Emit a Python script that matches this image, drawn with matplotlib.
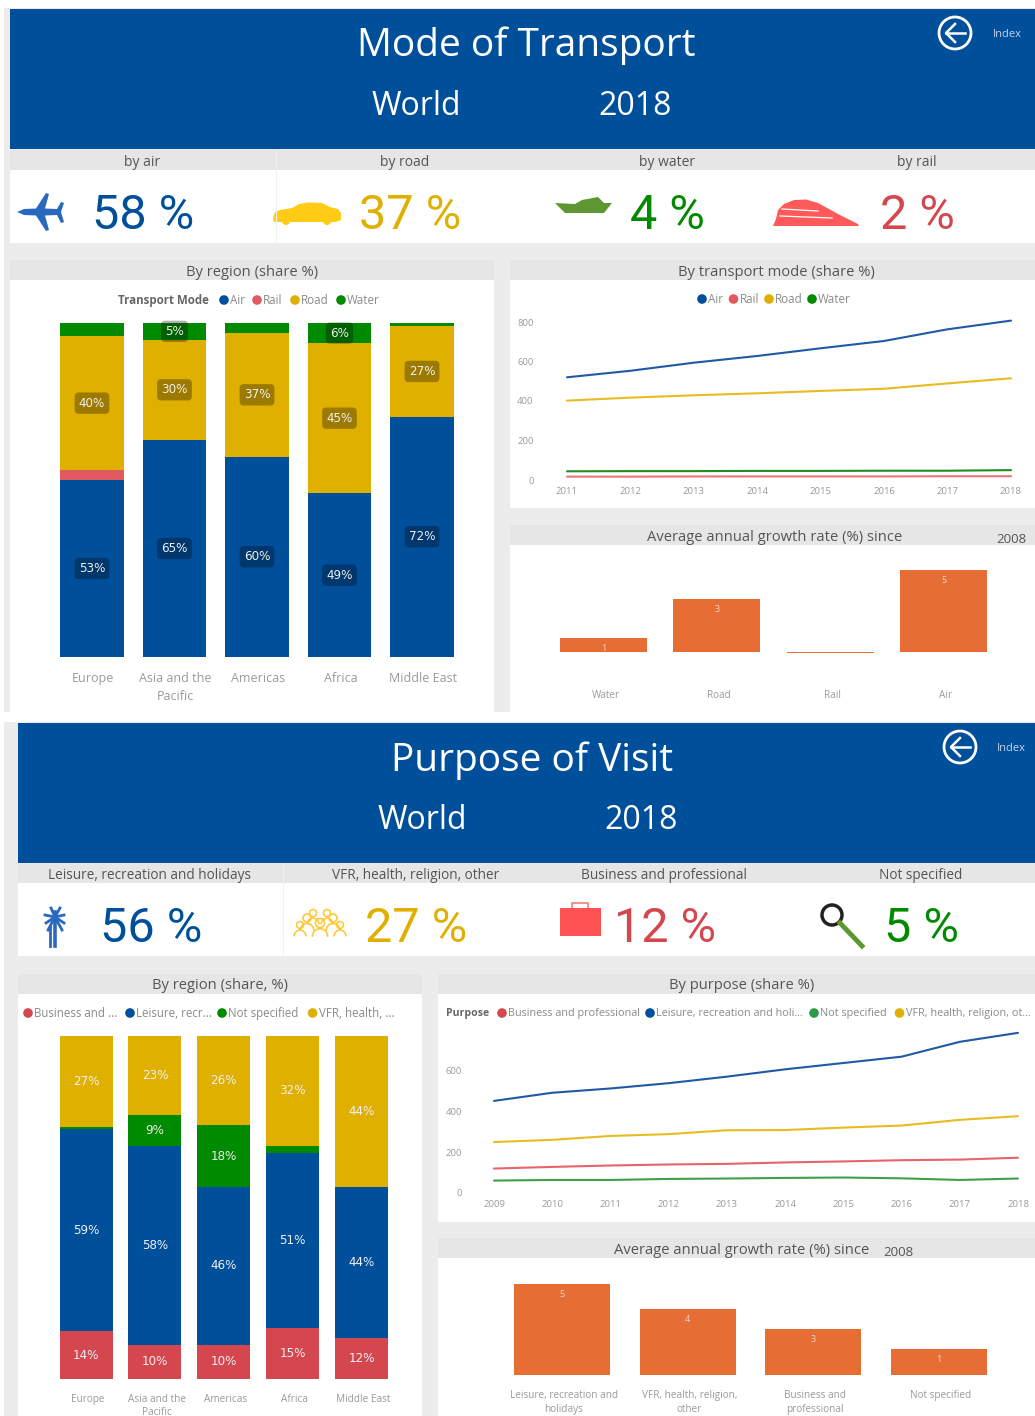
import matplotlib
matplotlib.use("Agg")
import matplotlib.pyplot as plt
from matplotlib.patches import Rectangle, Circle, Polygon, Arc
from matplotlib.transforms import ScaledTranslation

plt.rcParams['font.family'] = ['Open Sans', 'DejaVu Sans']

W, H = 1035, 1416

BLUE = '#004f9b'
RED = '#e05a5f'
RED2 = '#d4474f'
GOLD = '#e0b000'
GREEN = '#008a00'
ORANGE = '#e66e35'
HEAD = '#e6e6e6'
BG = '#ececec'
TICK = '#9a9a9a'

# transport mode
regions = ['Europe', 'Asia and the\nPacific', 'Americas', 'Africa', 'Middle East']
mode_air = [53, 65, 60, 49, 72]
mode_rail = [3, 0, 0, 0, 0]
mode_road = [40, 30, 37, 45, 27]
mode_water = [4, 5, 3, 6, 1]

mode_years = [2011, 2012, 2013, 2014, 2015, 2016, 2017, 2018]
air_line = [520, 553, 594, 628, 667, 704, 763, 807]
road_line = [402, 417, 429, 439, 451, 462, 489, 515]
water_line = [44, 45, 45, 46, 46, 47, 47, 50]
rail_line = [17, 17, 18, 18, 18, 18, 19, 19]

mode_growth_names = ['Water', 'Road', 'Rail', 'Air']
mode_growth = [0.8, 3.2, -0.1, 5.0]
mode_growth_labels = ['1', '3', '', '5']

# purpose of visit
purp_business = [13.9, 10, 10, 15, 12]
purp_leisure = [59, 58, 46, 51, 44]
purp_other = [0.5, 9, 18, 2, 0]
purp_vfr = [26.6, 23, 26, 32, 44]

purp_years = [2009, 2010, 2011, 2012, 2013, 2014, 2015, 2016, 2017, 2018]
leisure_line = [452, 492, 513, 539, 571, 607, 638, 669, 742, 786]
vfr_line = [250, 261, 280, 289, 308, 309, 321, 331, 359, 377]
business_line = [120, 128, 135, 140, 143, 150, 155, 161, 164, 173]
notspec_line = [61, 64, 64, 69, 71, 74, 76, 72, 64, 71]

purp_growth_names = ['Leisure, recreation and\nholidays', 'VFR, health, religion,\nother',
                     'Business and\nprofessional', 'Not specified']
purp_growth = [5.0, 3.6, 2.5, 1.4]
purp_growth_labels = ['5', '4', '3', '1']

fig = plt.figure(figsize=(W / 100, H / 100), dpi=100)
fig.patch.set_facecolor('white')

# page layer in pixel coordinates, y goes down
pg = fig.add_axes([0, 0, 1, 1], zorder=0)
pg.set_xlim(0, W)
pg.set_ylim(H, 0)
pg.axis('off')


def rect(x0, y0, x1, y1, color, **kw):
    pg.add_patch(Rectangle((x0, y0), x1 - x0, y1 - y0, fc=color, ec='none', **kw))


def txt(x, y, s, size, color='#555555', ha='center', **kw):
    # va center sits a little high compared to the reference
    pg.text(x, y + 1.5 + size * 0.1, s, fontsize=size, color=color, ha=ha, va='center', **kw)


def px_axes(x0, y0, x1, y1):
    ax = fig.add_axes([x0 / W, 1 - y1 / H, (x1 - x0) / W, (y1 - y0) / H], zorder=2)
    ax.patch.set_alpha(0)
    for s in ax.spines.values():
        s.set_visible(False)
    return ax


def shift_ticks(ax, px, spacing):
    off = ScaledTranslation(px / 100, 0, fig.dpi_scale_trans)
    for lab in ax.get_xticklabels():
        lab.set_transform(lab.get_transform() + off)
        lab.set_linespacing(spacing)


def stacked(ax, names, series, colors, boxed, tick_size, tick_pad, spacing, shift):
    x = list(range(len(names)))
    bottom = [0] * len(names)
    for vals, col in zip(series, colors):
        ax.bar(x, vals, 0.77, bottom=bottom, color=col)
        for i, v in enumerate(vals):
            if v >= 5:
                box = dict(boxstyle='round,pad=0.35', fc='black', alpha=0.3, ec='none') if boxed else None
                ax.text(i, bottom[i] + v / 2, f'{v:.0f}%', color='#f0f0f0', ha='center', va='center',
                        fontsize=8.6, family=['DejaVu Sans'], bbox=box)
        bottom = [b + v for b, v in zip(bottom, vals)]
    ax.set_xlim(-0.5, len(names) - 0.5)
    ax.set_ylim(0, 100)
    ax.set_yticks([])
    ax.set_xticks(x, names)
    ax.tick_params(axis='x', length=0, pad=tick_pad, labelsize=tick_size, labelcolor=TICK)
    shift_ticks(ax, shift, spacing)


def lines(ax, years, series, colors, ymax, yticks, ypad):
    for vals, col in zip(series, colors):
        ax.plot(years, vals, color=col, lw=1.5, clip_on=False, solid_capstyle='round')
    ax.set_xlim(years[0], years[-1])
    ax.set_ylim(0, ymax)
    ax.set_xticks(years)
    ax.set_yticks(yticks)
    ax.tick_params(axis='both', length=0, labelsize=6.8, labelcolor=TICK)
    ax.tick_params(axis='x', pad=5)
    ax.tick_params(axis='y', pad=ypad)


def growth(ax, names, vals, labels, tick_pad):
    x = list(range(len(names)))
    bars = ax.bar(x, vals, 0.765, color=ORANGE)
    for b in bars:
        b.set_clip_on(False)
    for i, lab in enumerate(labels):
        ax.annotate(lab, (i, vals[i]), xytext=(0, -7.5), textcoords='offset points', ha='center', va='center',
                    color='#f6d9c8', fontsize=6.5, annotation_clip=False)
    ax.set_xlim(-0.5, len(names) - 0.5)
    ax.set_ylim(0, max(vals))
    ax.set_yticks([])
    ax.set_xticks(x, names)
    ax.tick_params(axis='x', length=0, pad=tick_pad, labelsize=7.2, labelcolor=TICK)
    shift_ticks(ax, 2, 1.4)


def legend(xs, y, names, colors, size=8.4):
    for x, n, c in zip(xs, names, colors):
        pg.add_patch(Circle((x, y), 4.8, fc=c, ec='none', zorder=3))
        pg.text(x + 6, y + 0.5, n, fontsize=size, color='#8a8a8a', ha='left', va='center', zorder=3)


def back_icon(x, y, idx_x):
    pg.add_patch(Circle((x, y), 16, fc='none', ec='white', lw=2))
    pg.plot([x - 9, x + 10], [y, y], color='white', lw=1.8)
    pg.plot([x, x - 9, x], [y - 9, y, y + 9], color='white', lw=1.8)
    txt(idx_x, y - 1, 'Index', 8, color='#c5d3e6')


# backgrounds
rect(4, 8, W, 712, BG)
rect(4, 722, W, H, BG)

# top page
rect(10, 9, W, 149, BLUE)
txt(526, 41, 'Mode of Transport', 28, color='white')
txt(416, 103, 'World', 23, color='white')
txt(635, 103, '2018', 23, color='white')
back_icon(955, 33, 1007)
rect(10, 150, W, 170, HEAD)
rect(10, 170, W, 243, 'white')
pg.plot([276, 276], [150, 243], color='#f0f0f0', lw=0.8)
for x, lab in zip([142, 405, 667, 917], ['by air', 'by road', 'by water', 'by rail']):
    txt(x, 160, lab, 10)
for x, lab, col in zip([143, 410, 667, 917], ['58 %', '37 %', '4 %', '2 %'], [BLUE, GOLD, GREEN, RED2]):
    txt(x, 211, lab, 35, color=col, family=['Roboto', 'DejaVu Sans'])

rect(10, 260, 494, 280, HEAD)
rect(10, 280, 494, 712, 'white')
txt(252, 270, 'By region (share %)', 10.6)
rect(510, 260, W, 280, HEAD)
rect(510, 280, W, 508, 'white')
txt(776, 270, 'By transport mode (share %)', 10.6)
rect(510, 525, W, 545, HEAD)
rect(510, 545, W, 712, 'white')
txt(775, 535, 'Average annual growth rate (%) since', 10.6)
txt(1011, 537, '2008', 9.5)

# plane
pg.add_patch(Polygon([(17, 212), (24, 209), (36, 208.5), (46, 193), (49, 194), (45, 208.5), (57, 209), (61, 202), (64, 203),
                      (61, 212), (64, 222), (61, 223), (57, 215), (45, 215.5), (49, 230), (46, 231), (36, 215.5), (24, 215)],
                     fc='#2a68bd', ec='none'))
# car
pg.add_patch(Polygon([(273, 218), (275, 212), (280, 210), (292, 208), (299, 204), (308, 202.5), (322, 203), (330, 207), (338, 209),
                      (341, 213), (341, 220), (336, 222), (274, 222)], fc='#ffcb14', ec='none'))
pg.add_patch(Circle((286, 221), 4, fc='#ffcb14', ec='none'))
pg.add_patch(Circle((327, 221), 4, fc='#ffcb14', ec='none'))
# boat
pg.add_patch(Polygon([(555, 203), (575, 204), (582, 200), (598, 197), (604, 203), (612, 203), (604, 213), (565, 213)],
                     fc='#5e9632', ec='none'))
# train
pg.add_patch(Polygon([(776, 219), (778, 210), (784, 204), (794, 200), (806, 199.5), (818, 203), (840, 215), (858, 224), (859, 226), (773, 226)],
                     fc='#ff5a5a', ec='none'))
pg.plot([782, 818], [209, 211], color='white', lw=0.9)
pg.plot([780, 832], [216, 218], color='white', lw=0.9)

# bars and lines, top page
ax = px_axes(50.75, 323, 463.25, 657)
stacked(ax, regions, [mode_air, mode_rail, mode_road, mode_water], [BLUE, RED, GOLD, GREEN], True, 9, 10.5, 1.55, 1)
pg.text(118, 300.5, 'Transport Mode', fontsize=8.3, color='#666666', ha='left', va='center', fontweight='bold')
legend([224, 257, 295, 341], 300, ['Air', 'Rail', 'Road', 'Water'], [BLUE, RED, GOLD, GREEN])

ax = px_axes(567, 322, 1011, 480)
lines(ax, mode_years, [air_line, road_line, water_line, rail_line], ['#1f5aa6', '#e8bb22', '#1e8f1e', '#ea7478'],
      800, [0, 200, 400, 600, 800], 24)
legend([702, 733.5, 769, 812], 299, ['Air', 'Rail', 'Road', 'Water'], [BLUE, RED, GOLD, GREEN])

ax = px_axes(546.8, 570, 1000.2, 651.5)
growth(ax, mode_growth_names, mode_growth, mode_growth_labels, 27.7)

# bottom page
rect(18, 723, W, 863, BLUE)
txt(532, 756, 'Purpose of Visit', 28, color='white')
txt(422, 817, 'World', 23, color='white')
txt(641, 817, '2018', 23, color='white')
back_icon(960, 747, 1011)
rect(18, 864, W, 883, HEAD)
rect(18, 883, W, 956, 'white')
pg.plot([283, 283], [864, 956], color='#f0f0f0', lw=0.8)
for x, lab in zip([150, 416, 664, 921], ['Leisure, recreation and holidays', 'VFR, health, religion, other',
                                         'Business and professional', 'Not specified']):
    txt(x, 873, lab, 9.8)
for x, lab, col in zip([151, 416, 665, 922], ['56 %', '27 %', '12 %', '5 %'], [BLUE, GOLD, RED2, GREEN]):
    txt(x, 924, lab, 35, color=col, family=['Roboto', 'DejaVu Sans'])

rect(18, 974, 422, 994, HEAD)
rect(18, 994, 422, H, 'white')
txt(220, 983, 'By region (share, %)', 10.6)
rect(438, 974, W, 994, HEAD)
rect(438, 994, W, 1222, 'white')
txt(742, 983, 'By purpose (share %)', 10.6)
rect(438, 1238, W, 1258, HEAD)
rect(438, 1258, W, H, 'white')
txt(742, 1248, 'Average annual growth rate (%) since', 10.6)
txt(898, 1250, '2008', 9.5)

# palm
pg.plot([55, 55], [912, 946], color='#2a68bd', lw=2.6)
pg.plot([50, 50], [926, 946], color='#2a68bd', lw=2)
for dx, dy in [(-10, -2), (-9, 6), (9, -2), (9, 6), (-4, -9), (5, -9), (-7, 13), (7, 13)]:
    pg.plot([55, 55 + dx], [917, 917 + dy], color='#2a68bd', lw=2)
# people
for cx, cy, r in [(320, 923, 4.5), (307, 918, 4), (333, 918, 4), (300, 925, 3.5), (340, 925, 3.5), (313, 913, 3.5), (327, 913, 3.5)]:
    pg.add_patch(Circle((cx, cy), r, fc='none', ec='#ffc62e', lw=1.1))
    pg.add_patch(Arc((cx, cy + 2.4 * r + 3), 3.4 * r, 3.6 * r, theta1=180, theta2=360, ec='#ffc62e', lw=1.1))
# briefcase
pg.add_patch(Rectangle((572, 903), 16, 7, fc='none', ec='#ff7a7a', lw=1.2))
pg.add_patch(Rectangle((560, 908), 41, 28, fc='#ff5252', ec='none'))
# magnifier
pg.plot([840, 862], [923, 946], color='#5e9632', lw=3.5)
pg.add_patch(Circle((832, 915), 10, fc='none', ec='#222222', lw=2.5))

# bars and lines, bottom page
ax = px_axes(51.6, 1036, 396, 1379)
stacked(ax, regions, [purp_business, purp_leisure, purp_other, purp_vfr], [RED2, BLUE, GREEN, GOLD], False, 7.2, 10.5, 1.3, 2)
legend([28, 130, 222, 312.6], 1013, ['Business and ...', 'Leisure, recr...', 'Not specified', 'VFR, health, ...'],
       [RED2, BLUE, GREEN, GOLD], size=8.3)

ax = px_axes(494, 1030, 1018, 1193)
lines(ax, purp_years, [leisure_line, vfr_line, business_line, notspec_line], ['#1f5aa6', '#e8bb22', '#e8636a', '#3f9f4a'],
      800, [0, 200, 400, 600], 23)
pg.text(446, 1013.5, 'Purpose', fontsize=7.6, color='#666666', ha='left', va='center', fontweight='bold')
legend([502, 650, 814, 899.5], 1013,
       ['Business and professional', 'Leisure, recreation and holi...', 'Not specified', 'VFR, health, religion, ot...'],
       [RED2, BLUE, '#2f9a45', GOLD], size=7.8)

ax = px_axes(499, 1283.7, 1002, 1374.7)
growth(ax, purp_growth_names, purp_growth, purp_growth_labels, 11)

fig.savefig('out.png', dpi=100)
